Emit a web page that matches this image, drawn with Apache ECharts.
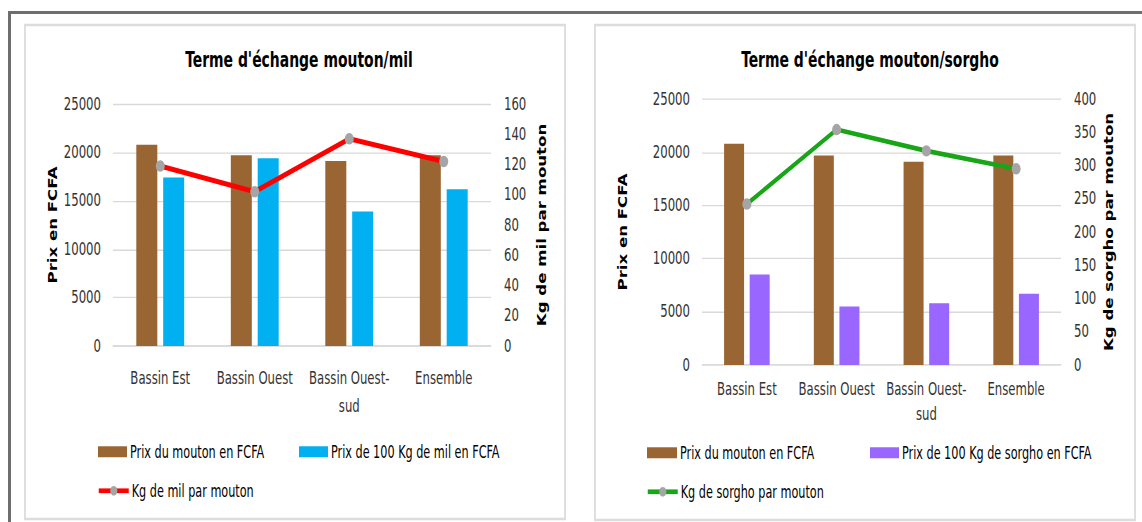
<!DOCTYPE html>
<html>
<head>
<meta charset="utf-8">
<script src="https://cdn.jsdelivr.net/npm/echarts@6/dist/echarts.min.js"></script>
<style>
  html, body { margin: 0; padding: 0; background: #ffffff; width: 1142px; height: 522px; }
  /* The chart is laid out in a shorter box and stretched vertically to fill the page */
  #chart { width: 1142px; height: 387px; transform-origin: 0 0; transform: scaleY(1.3488372); }
</style>
</head>
<body>
<div id="chart"></div>
<script>
// Categories (regions)
const categories = ['Bassin Est', 'Bassin Ouest', 'Bassin Ouest-sud', 'Ensemble'];

// Mouton / mil
const prixMouton = [20800, 19700, 19100, 19700];
const prixMil = [17400, 19400, 13900, 16200];
const kgMil = [119, 102, 137, 122];

// Mouton / sorgho
const prixMoutonS = [20800, 19700, 19100, 19700];
const prixSorgho = [8500, 5500, 5800, 6700];
const kgSorgho = [242, 354, 322, 295];

// Axis ranges
const prixAxis = { min: 0, max: 25000, interval: 5000 };
const kgMilAxis = { min: 0, max: 160, interval: 20 };
const kgSorghoAxis = { min: 0, max: 400, interval: 50 };

// vertical stretch applied by CSS: page y = chart y * STRETCH
const STRETCH = 522 / 387;
const Y = v => v / STRETCH;

const NARROW = "'DejaVu Sans Condensed', 'Liberation Sans Narrow', sans-serif";
const WIDE = "'DejaVu Sans', Verdana, sans-serif";
const BROWN = '#996633';
const BLUE = '#00b0f0';
const PURPLE = '#9966ff';
const RED = '#ff0000';
const GREEN = '#18a518';
const GREY_DOT = '#a5a5a5';
const GRID_LINE = '#d9d9d9';
const TXT = '#333333';

function catAxis(gridIndex, margin, lineHeight) {
  return {
    type: 'category', gridIndex, data: categories,
    axisLine: { show: true, lineStyle: { color: GRID_LINE, width: 1 } },
    axisTick: { show: false },
    axisLabel: {
      color: TXT, fontFamily: NARROW, fontSize: 13, margin: Y(margin), lineHeight: Y(lineHeight),
      interval: 0, formatter: v => v.replace('-', '-\n')
    }
  };
}

function valAxis(gridIndex, range, position, name, nameGap, grid) {
  return {
    type: 'value', gridIndex, position,
    min: range.min, max: range.max, interval: range.interval,
    name, nameLocation: 'middle', nameRotate: 90, nameGap, nameMoveOverlap: false,
    nameTextStyle: { fontFamily: WIDE, fontWeight: 'bold', fontSize: 12.3, color: '#000' },
    axisLine: { show: false }, axisTick: { show: false },
    axisLabel: {
      color: TXT, fontFamily: NARROW, fontSize: 13,
      margin: position === 'left' ? 12 : 13,
      formatter: v => String(v)
    },
    splitLine: { show: grid, lineStyle: { color: GRID_LINE, width: 1 } }
  };
}

function legendItem(name, left, top, w, h, isLine) {
  const item = {
    data: [name], left, top: Y(top), itemWidth: w, itemHeight: Y(h), itemGap: 0,
    padding: 0, selectedMode: false,
    textStyle: { fontFamily: NARROW, fontSize: 12.5, color: '#000', padding: [0, 0, 0, -2] }
  };
  if (isLine) {
    item.lineStyle = { width: 3.5 };
  } else {
    item.icon = 'rect';
  }
  return item;
}

const chart = echarts.init(document.getElementById('chart'), null, { renderer: 'svg' });

chart.setOption({
  animation: false,
  backgroundColor: '#ffffff',
  title: [
    { text: "Terme d'échange mouton/mil", left: 294, top: Y(42), textAlign: 'center',
      textStyle: { fontFamily: NARROW, fontWeight: 'bold', fontSize: 15.5, color: '#000' } },
    { text: "Terme d'échange mouton/sorgho", left: 865, top: Y(42), textAlign: 'center',
      textStyle: { fontFamily: NARROW, fontWeight: 'bold', fontSize: 15.5, color: '#000' } }
  ],
  grid: [
    { left: 113, top: Y(104), width: 378, height: Y(242) },
    { left: 702, top: Y(99), width: 359, height: Y(266) }
  ],
  xAxis: [catAxis(0, 18, 28), catAxis(1, 12, 25)],
  yAxis: [
    valAxis(0, prixAxis, 'left', 'Prix en FCFA', 55, true),
    valAxis(0, kgMilAxis, 'right', 'Kg de mil par mouton', 44, false),
    valAxis(1, prixAxis, 'left', 'Prix en FCFA', 74, true),
    valAxis(1, kgSorghoAxis, 'right', 'Kg de sorgho par mouton', 41, false)
  ],
  legend: [
    legendItem('Prix du mouton en FCFA', 98, 443, 29, 11, false),
    legendItem('Prix de 100 Kg de mil en FCFA', 299, 443, 29, 11, false),
    legendItem('Kg de mil par mouton', 97, 482, 30, 12, true),
    legendItem('Prix du mouton en FCFA ', 647, 444, 30, 11, false),
    legendItem('Prix de 100 Kg de sorgho en FCFA', 870, 444, 29, 11, false),
    legendItem('Kg de sorgho par mouton', 646, 483, 30, 12, true)
  ],
  series: [
    { name: 'Prix du mouton en FCFA', type: 'bar', xAxisIndex: 0, yAxisIndex: 0,
      data: prixMouton, barWidth: 21, barGap: '28%', itemStyle: { color: BROWN } },
    { name: 'Prix de 100 Kg de mil en FCFA', type: 'bar', xAxisIndex: 0, yAxisIndex: 0,
      data: prixMil, barWidth: 21, barGap: '28%', itemStyle: { color: BLUE } },
    { name: 'Kg de mil par mouton', type: 'line', xAxisIndex: 0, yAxisIndex: 1,
      data: kgMil, symbol: 'circle', symbolSize: [9, 8.5],
      lineStyle: { color: RED, width: 3.8 }, itemStyle: { color: GREY_DOT } },
    { name: 'Prix du mouton en FCFA ', type: 'bar', xAxisIndex: 1, yAxisIndex: 2,
      data: prixMoutonS, barWidth: 20, barGap: '28%', itemStyle: { color: BROWN } },
    { name: 'Prix de 100 Kg de sorgho en FCFA', type: 'bar', xAxisIndex: 1, yAxisIndex: 2,
      data: prixSorgho, barWidth: 20, barGap: '28%', itemStyle: { color: PURPLE } },
    { name: 'Kg de sorgho par mouton', type: 'line', xAxisIndex: 1, yAxisIndex: 3,
      data: kgSorgho, symbol: 'circle', symbolSize: [9, 8.5],
      lineStyle: { color: GREEN, width: 3.4 }, itemStyle: { color: GREY_DOT } }
  ],
  graphic: [
    // outer frame (top and left edges)
    { type: 'rect', shape: { x: 8, y: Y(11), width: 1134, height: Y(3) }, style: { fill: '#6e6e6e' }, silent: true },
    { type: 'rect', shape: { x: 8, y: Y(11), width: 3, height: 400 }, style: { fill: '#6e6e6e' }, silent: true },
    // chart panels
    { type: 'rect', shape: { x: 25, y: Y(25), width: 540, height: Y(494) },
      style: { fill: 'none', stroke: '#dcdcdc', lineWidth: 1.8 }, silent: true, z: -1 },
    { type: 'rect', shape: { x: 595, y: Y(25), width: 540, height: Y(495) },
      style: { fill: 'none', stroke: '#dcdcdc', lineWidth: 1.8 }, silent: true, z: -1 }
  ]
});
</script>
</body>
</html>
